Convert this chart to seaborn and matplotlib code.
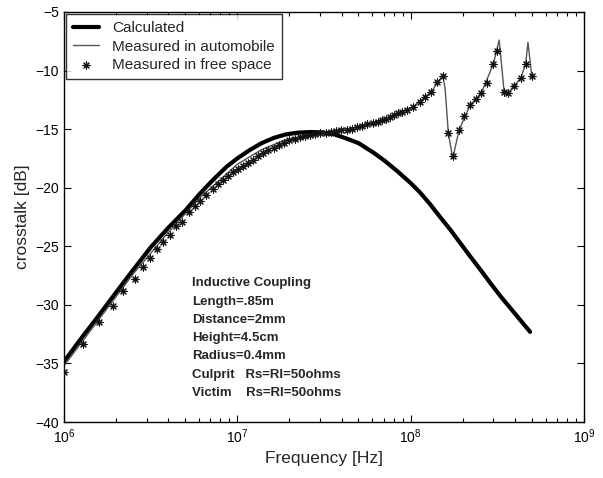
import numpy as np
import pandas as pd
import seaborn as sns
import matplotlib.pyplot as plt

# calculated crosstalk (MHz, dB)
calc_mhz = [1.00, 1.259, 1.60, 1.995, 2.512, 3.162, 3.981, 5.012, 6.095, 7.278, 8.690, 10.0,
            11.75, 13.80, 16.22, 19.05, 22.39, 26.30, 30.90, 36.31, 42.66, 50.12, 60.95,
            70.79, 83.18, 100, 113.2, 129.4, 147.9, 168.7, 195.0, 220.3, 251.2, 287.1, 327.3,
            375.0, 426.6, 488.7]
calc_db = [-34.85, -32.85, -30.85, -28.95, -27.0, -25.1, -23.45, -21.95, -20.5, -19.3, -18.2,
           -17.5, -16.8, -16.2, -15.75, -15.45, -15.3, -15.25, -15.28, -15.45, -15.8, -16.2,
           -17.0, -17.7, -18.55, -19.6, -20.4, -21.4, -22.5, -23.55, -24.8, -25.85, -26.95,
           -28.1, -29.2, -30.25, -31.25, -32.3]

# measured in automobile (thin line)
auto_mhz = [1.00, 1.60, 2.512, 3.981, 6.095, 10.0, 13.8, 19.05, 26.3, 37.2, 52.5, 76.0, 103,
            131, 153, 158, 165, 175, 190, 220, 255, 300, 324, 335, 346, 366, 396, 432, 461,
            475, 500]
auto_db = [-35.2, -31.2, -27.35, -23.85, -20.85, -18.0, -16.75, -15.9, -15.5, -15.15, -14.75,
           -13.95, -13.1, -11.85, -10.4, -11.5, -15.35, -17.5, -15.1, -12.95, -11.95, -9.45,
           -7.4, -9.6, -11.8, -11.9, -11.3, -10.65, -9.4, -7.6, -10.5]

# measured in free space (stars)
free_mhz = [1.00, 1.29, 1.60, 1.91, 2.20, 2.57, 2.84, 3.13, 3.43, 3.74, 4.09, 4.43, 4.78,
            5.28, 5.68, 6.10, 6.61, 7.28, 7.76, 8.30, 8.87, 9.48, 10.1, 10.8, 11.6, 12.4,
            13.2, 14.1, 15.1, 16.2, 17.4, 18.6, 20.0, 21.4, 22.9, 24.5, 26.3, 28.2, 30.2,
            32.4, 34.7, 37.2, 39.8, 42.7, 45.7, 49.0, 52.5, 56.2, 60.3, 64.6, 68.1, 72.0,
            76.0, 80.4, 84.5, 89.5, 94.8, 103, 113, 121, 131, 142, 153, 165, 175, 190, 204,
            220, 238, 255, 275, 300, 316, 346, 366, 396, 432, 461, 500]
free_db = [-35.7, -33.3, -31.5, -30.1, -28.8, -27.8, -26.8, -26.0, -25.2, -24.6, -24.0,
           -23.3, -22.9, -22.1, -21.6, -21.1, -20.6, -20.1, -19.7, -19.35, -19.0, -18.65,
           -18.4, -18.15, -17.85, -17.6, -17.3, -17.0, -16.8, -16.6, -16.35, -16.15, -15.95,
           -15.8, -15.7, -15.6, -15.5, -15.4, -15.35, -15.3, -15.25, -15.15, -15.1, -15.05,
           -14.95, -14.85, -14.75, -14.6, -14.5, -14.35, -14.2, -14.1, -13.95, -13.8, -13.6,
           -13.5, -13.35, -13.1, -12.7, -12.3, -11.85, -11.0, -10.5, -15.35, -17.3, -15.1,
           -13.85, -12.95, -12.45, -11.95, -11.1, -9.45, -8.3, -11.8, -11.9, -11.3, -10.65,
           -9.45, -10.5]

info_lines = ["Inductive Coupling", "Length=.85m", "Distance=2mm", "Height=4.5cm",
              "Radius=0.4mm", "Culprit   Rs=Rl=50ohms", "Victim    Rs=Rl=50ohms"]

sns.set_theme(style="ticks")
plt.rcParams['font.family'] = ['Liberation Sans', 'DejaVu Sans']

calc = pd.DataFrame({"f": np.array(calc_mhz) * 1e6, "db": calc_db})
auto = pd.DataFrame({"f": np.array(auto_mhz) * 1e6, "db": auto_db})
free = pd.DataFrame({"f": np.array(free_mhz) * 1e6, "db": free_db})

fig = plt.figure(figsize=(6.03, 4.78), dpi=100)
ax = fig.add_axes([0.106, 0.117, 0.8625, 0.858])

sns.lineplot(data=calc, x="f", y="db", ax=ax, color="black", lw=3, sort=False,
             estimator=None, label="Calculated")
sns.lineplot(data=auto, x="f", y="db", ax=ax, color="#555555", lw=1, sort=False,
             estimator=None, label="Measured in automobile")
sns.scatterplot(data=free, x="f", y="db", ax=ax, marker=(8, 2, 0), s=26, color="#111111",
                linewidth=0.8, label="Measured in free space", zorder=3)

ax.set_xscale("log")
ax.set_xlim(1e6, 1e9)
ax.set_ylim(-40, -5)
ax.set_yticks(np.arange(-40, -4, 5))
ax.set_xlabel("Frequency [Hz]", fontsize=12.5, labelpad=4)
ax.set_ylabel("crosstalk [dB]", fontsize=12.5, labelpad=4)
ax.tick_params(which="both", direction="in", top=True, right=True, labelsize=10,
               colors="black")
ax.tick_params(which="major", length=5, width=0.8)
ax.tick_params(which="minor", length=3, width=0.8)
for s in ax.spines.values():
    s.set_visible(True)
    s.set_color("black")
    s.set_linewidth(1)

for i, t in enumerate(info_lines):
    ax.text(0.247, 0.338 - i * 0.0445, t, transform=ax.transAxes, fontsize=9.5,
            fontweight="bold", va="center", ha="left")

leg = ax.legend(loc="upper left", fontsize=11, frameon=True, fancybox=False,
                borderaxespad=0.15, handlelength=1.7, handletextpad=0.85, borderpad=0.45,
                labelspacing=0.3)
leg.get_frame().set_edgecolor("black")
leg.get_frame().set_linewidth(1)

fig.savefig("out.png", dpi=100)
